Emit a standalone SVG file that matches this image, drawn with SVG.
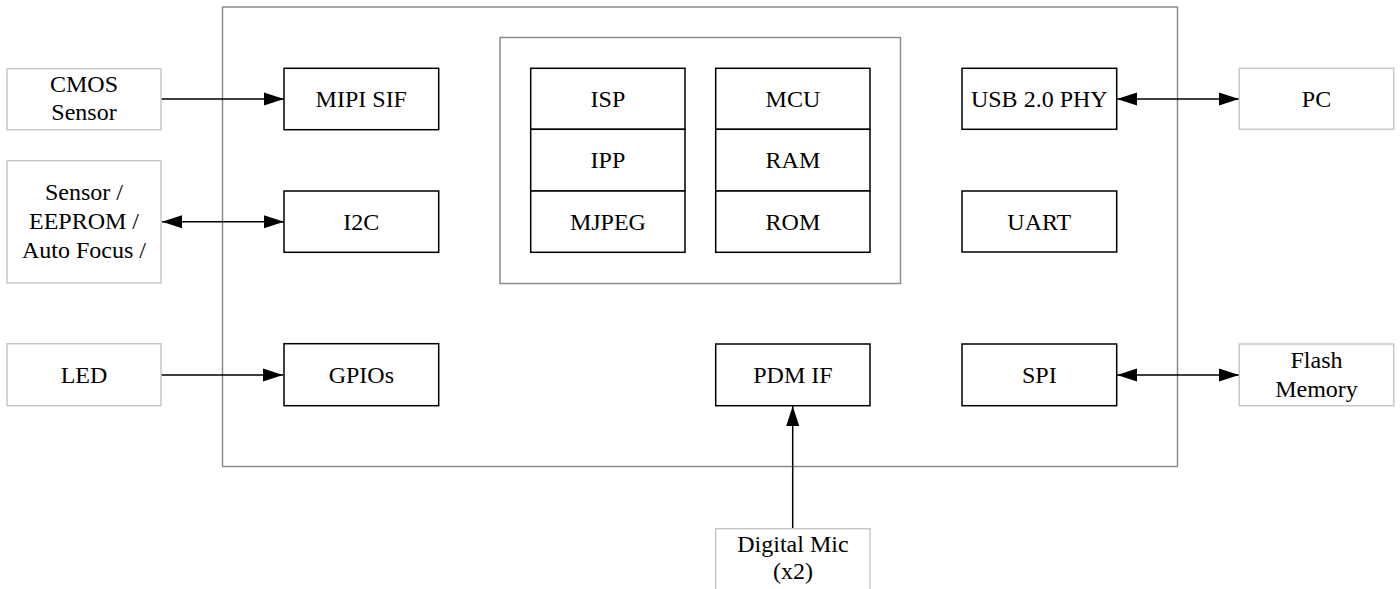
<svg xmlns="http://www.w3.org/2000/svg" width="1400" height="589" viewBox="0 0 1400 589">
<defs>
<style>
text{font-family:"Liberation Serif","Times New Roman",serif;font-size:24px;fill:#000;text-anchor:middle}
.chip{fill:none;stroke:#8c8c8c;stroke-width:1.5}
.ext{fill:#fff;stroke:#c8c8c8;stroke-width:1.5}
.blk{fill:#fff;stroke:#000;stroke-width:1.5}
.conn{stroke:#000;stroke-width:1.5;fill:none}
</style>
<marker id="ah" markerUnits="userSpaceOnUse" markerWidth="20" markerHeight="14" refX="20" refY="6.5" orient="auto-start-reverse" viewBox="0 0 20 13">
<path d="M0,0 L20,6.5 L0,13 z" fill="#000"/>
</marker>
</defs>
<g id="chip"><rect class="chip" x="222.5" y="7" width="955" height="459.5"/></g>
<g id="core"><rect class="chip" x="500" y="37.5" width="400.5" height="246"/></g>
<g id="connectors">
<line class="conn" x1="161" y1="99" x2="284" y2="99" marker-end="url(#ah)"/>
<line class="conn" x1="162" y1="221.7" x2="284" y2="221.7" marker-start="url(#ah)" marker-end="url(#ah)"/>
<line class="conn" x1="158" y1="375" x2="283" y2="375" marker-end="url(#ah)"/>
<line class="conn" x1="1117" y1="99" x2="1239" y2="99" marker-start="url(#ah)" marker-end="url(#ah)"/>
<line class="conn" x1="1117" y1="375" x2="1239" y2="375" marker-start="url(#ah)" marker-end="url(#ah)"/>
<line class="conn" x1="792.7" y1="528.7" x2="792.7" y2="406" marker-end="url(#ah)"/>
</g>
<g id="cmos"><rect class="ext" x="7" y="68.7" width="154" height="61"/><text x="84" y="91.5">CMOS</text><text x="84" y="120">Sensor</text></g>
<g id="sensor"><rect class="ext" x="7" y="160.7" width="154" height="122.3"/><text x="84" y="200">Sensor /</text><text x="84" y="229">EEPROM /</text><text x="84" y="257.5">Auto Focus /</text></g>
<g id="led"><rect class="ext" x="7" y="343.7" width="154" height="62"/><text x="84" y="382.5">LED</text></g>
<g id="mipi"><rect class="blk" x="284" y="68.3" width="154.7" height="61.4"/><text x="361.3" y="106.5">MIPI SIF</text></g>
<g id="i2c"><rect class="blk" x="284" y="191" width="154.7" height="61.3"/><text x="361.3" y="229.5">I2C</text></g>
<g id="gpio"><rect class="blk" x="284" y="343.7" width="154.7" height="62"/><text x="361.3" y="382.5">GPIOs</text></g>
<g id="isp"><rect class="blk" x="530.7" y="68.3" width="154.3" height="61"/><text x="607.9" y="106.5">ISP</text></g>
<g id="ipp"><rect class="blk" x="530.7" y="129.3" width="154.3" height="61.7"/><text x="607.9" y="168">IPP</text></g>
<g id="mjpeg"><rect class="blk" x="530.7" y="191" width="154.3" height="61.3"/><text x="607.9" y="229.5">MJPEG</text></g>
<g id="mcu"><rect class="blk" x="715.7" y="68.3" width="154.3" height="61"/><text x="792.9" y="106.5">MCU</text></g>
<g id="ram"><rect class="blk" x="715.7" y="129.3" width="154.3" height="61.7"/><text x="792.9" y="168">RAM</text></g>
<g id="rom"><rect class="blk" x="715.7" y="191" width="154.3" height="61.3"/><text x="792.9" y="229.5">ROM</text></g>
<g id="pdm"><rect class="blk" x="715.7" y="344" width="154.3" height="61.7"/><text x="792.9" y="382.5">PDM IF</text></g>
<g id="mic"><rect class="ext" x="715.7" y="528.7" width="154.3" height="70"/><text x="792.9" y="551.7">Digital Mic</text><text x="792.9" y="579.3">(x2)</text></g>
<g id="usb"><rect class="blk" x="962" y="68.3" width="154.7" height="61"/><text x="1039.3" y="106.5">USB 2.0 PHY</text></g>
<g id="uart"><rect class="blk" x="962" y="191" width="154.7" height="61"/><text x="1039.3" y="229.5">UART</text></g>
<g id="spi"><rect class="blk" x="962" y="344" width="154.7" height="61.7"/><text x="1039.3" y="382.5">SPI</text></g>
<g id="pc"><rect class="ext" x="1239.3" y="68.3" width="154.4" height="61"/><text x="1316.5" y="106.5">PC</text></g>
<g id="flash"><rect class="ext" x="1239.3" y="344" width="154.4" height="61.7"/><text x="1316.5" y="367.5">Flash</text><text x="1316.5" y="396.5">Memory</text></g>
</svg>
